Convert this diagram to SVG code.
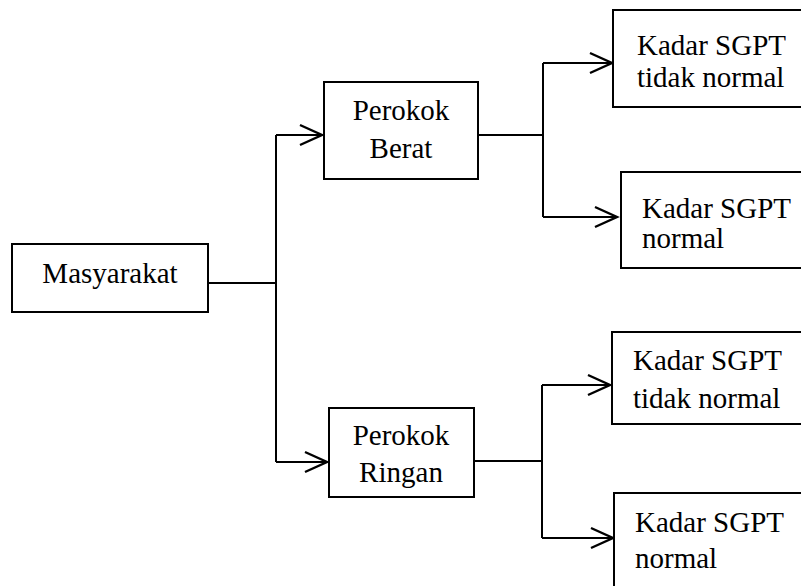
<svg xmlns="http://www.w3.org/2000/svg" width="801" height="586" viewBox="0 0 801 586">
<style>
.box{fill:#fff;stroke:#000;stroke-width:2}
text{font-family:'Liberation Serif','Times New Roman',serif;font-size:29px;fill:#000}
.c{fill:none;stroke:#000;stroke-width:2}
.a{fill:none;stroke:#000;stroke-width:2.2;marker-end:url(#arr)}
</style>
<defs>
<marker id="arr" markerUnits="userSpaceOnUse" orient="auto" markerWidth="30" markerHeight="30" refX="0" refY="0" viewBox="-26 -13 30 26" overflow="visible">
<path d="M-22,-10 L0,0 L-22,10" fill="none" stroke="#000" stroke-width="2.4"/>
</marker>
</defs>
<g id="connectors">
<path class="c" d="M208,283 H276"/>
<path class="c" d="M276,135 V462"/>
<path class="a" d="M276,135 H322"/>
<path class="a" d="M276,462 H327"/>
<path class="c" d="M478,135 H543"/>
<path class="c" d="M543,63 V217"/>
<path class="a" d="M543,63 H612"/>
<path class="a" d="M543,217 H617"/>
<path class="c" d="M474,461 H542"/>
<path class="c" d="M542,385 V538"/>
<path class="a" d="M542,385 H610"/>
<path class="a" d="M542,538 H613"/>
</g>
<g id="masyarakat">
<rect class="box" x="12" y="244" width="196" height="68"/>
<text x="110" y="283" text-anchor="middle">Masyarakat</text>
</g>
<g id="perokok-berat">
<rect class="box" x="324" y="82" width="154" height="97"/>
<text x="401" y="120" text-anchor="middle">Perokok</text>
<text x="401" y="158" text-anchor="middle">Berat</text>
</g>
<g id="perokok-ringan">
<rect class="box" x="329" y="408" width="145" height="89"/>
<text x="401" y="445" text-anchor="middle">Perokok</text>
<text x="401" y="482" text-anchor="middle">Ringan</text>
</g>
<g id="berat-tidak-normal">
<rect class="box" x="613" y="10" width="200" height="97"/>
<text x="637" y="55">Kadar SGPT</text>
<text x="637" y="87">tidak normal</text>
</g>
<g id="berat-normal">
<rect class="box" x="621" y="172" width="200" height="96"/>
<text x="642" y="218">Kadar SGPT</text>
<text x="642" y="248">normal</text>
</g>
<g id="ringan-tidak-normal">
<rect class="box" x="612" y="332" width="200" height="92"/>
<text x="633" y="370">Kadar SGPT</text>
<text x="633" y="408">tidak normal</text>
</g>
<g id="ringan-normal">
<rect class="box" x="614" y="493" width="200" height="120"/>
<text x="635" y="532">Kadar SGPT</text>
<text x="635" y="568">normal</text>
</g>
</svg>
